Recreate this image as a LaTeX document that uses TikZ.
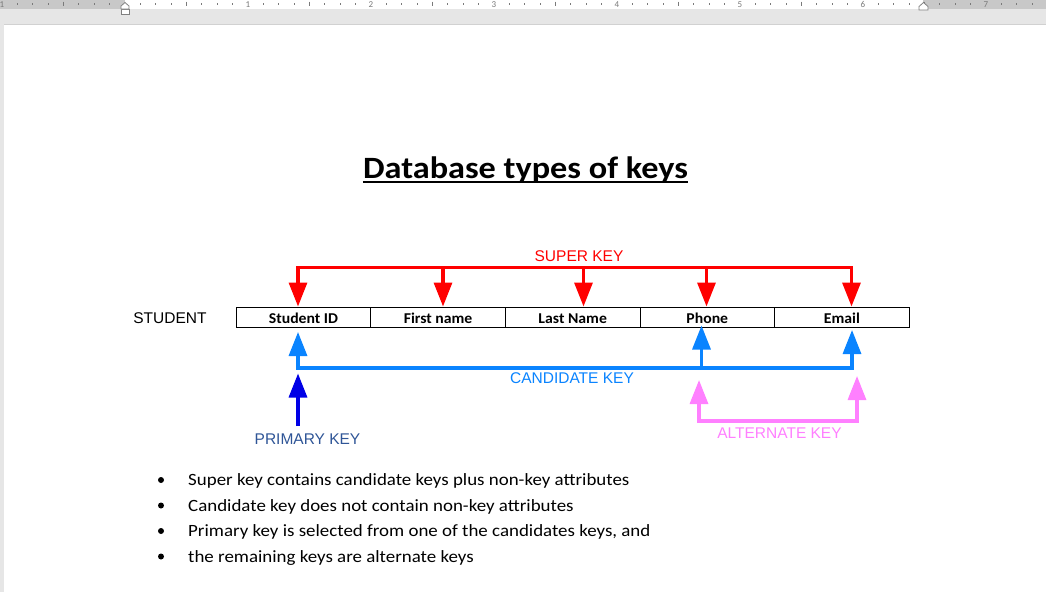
\documentclass[tikz,border=0pt]{standalone}
\usepackage{graphicx}
\usepackage{fontspec}
\setmainfont{Carlito}
\newfontfamily\arialf{Liberation Sans}
\usetikzlibrary{arrows.meta}
\definecolor{skred}{HTML}{FF0000}
\definecolor{ckblue}{HTML}{0A84FF}
\definecolor{pkblue}{HTML}{0000E6}
\definecolor{pklabel}{HTML}{2F5597}
\definecolor{akpink}{HTML}{FF80FF}
\definecolor{rulergray}{HTML}{C8C8C8}
\definecolor{bandgray}{HTML}{E6E6E6}
\definecolor{tickgray}{HTML}{7A7A7A}
\newcommand{\wide}[2]{\scalebox{#1}[1]{#2}}
\begin{document}
\begin{tikzpicture}[x=1pt,y=-1pt,
  tip/.style={-{Triangle[width=18pt,length=24pt]}},
  bitip/.style={{Triangle[width=18pt,length=24pt]}-{Triangle[width=18pt,length=24pt]}},
  keyline/.style={line width=3.2pt,line join=miter},
  cell/.style={draw=black,line width=1pt,minimum width=134.6pt,minimum height=20pt,inner sep=0pt,
    text height=14pt,text depth=1.4pt,font=\fontsize{15}{17}\selectfont\bfseries},
  arlabel/.style={font=\arialf\fontsize{15.5}{17}\selectfont,inner sep=0pt},
  bultext/.style={font=\fontsize{17.2}{20}\selectfont,anchor=base west,inner sep=0pt},
  buldot/.style={circle,fill=black,minimum size=6pt,inner sep=0pt},
  rulertick/.style={draw=tickgray,line width=0.8pt},
  rulernum/.style={font=\fontsize{9}{9}\selectfont,text=tickgray,anchor=base,inner sep=0pt},
  marker/.style={draw=gray,fill=white,line width=0.8pt}
]
\useasboundingbox (0,0) rectangle (1046,592);
% window background
\fill[bandgray] (0,0) rectangle (1046,592);
\fill[white] (4,25) rectangle (1046,592);
\draw[color=black!18,line width=1pt] (4,24.5) -- (1046,24.5);
% ruler
\begin{scope}
  \clip (0,0) rectangle (1046,9);
  \fill[rulergray] (0,0) rectangle (1046,9);
  \fill[white] (125,0) rectangle (923,9);
  \foreach \k in {-8,...,59} {
    \pgfmathsetmacro{\xx}{125+\k*15.375}
    \pgfmathtruncatemacro{\mm}{mod(abs(\k),8)}
    \pgfmathtruncatemacro{\hh}{mod(abs(\k),4)}
    \ifnum\mm=0
      \ifnum\k=0\else
        \pgfmathtruncatemacro{\nn}{abs(\k)/8}
        \node[rulernum] (rn\k) at (\xx,7.5) {\nn};
      \fi
    \else
      \ifnum\hh=0
        \draw[rulertick] (\xx,1.5) -- (\xx,6);
      \else
        \draw[rulertick] (\xx,3) -- (\xx,4.5);
      \fi
    \fi
  }
\end{scope}
\draw[marker] (121,14) -- (121,9) -- (129,9) -- (129,14) -- cycle;
\draw[marker] (121,9) -- (121,6) -- (125,2.5) -- (129,6) -- (129,9) -- cycle;
\draw[marker] (919,10) -- (919,6.5) -- (923.5,2.5) -- (928,6.5) -- (928,10) -- cycle;

% title
\node[font=\fontsize{31}{34}\selectfont\bfseries,anchor=base,inner sep=0pt] (title) at (525.5,178.5) {\wide{1.105}{Database types of keys}};
\draw[line width=2.3pt] ([yshift=-3.3pt]title.base west) -- ([yshift=-3.3pt]title.base east);

% table
\node[arlabel] (student) at (170,318) {STUDENT};
\node[cell] (c1) at (303.5,317) {\wide{1.05}{Student ID}};
\node[cell] (c2) at (438.1,317) {\wide{1.05}{First name}};
\node[cell] (c3) at (572.7,317) {\wide{1.05}{Last Name}};
\node[cell] (c4) at (707.3,317) {\wide{1.05}{Phone}};
\node[cell] (c5) at (841.9,317) {\wide{1.05}{Email}};

% super key
\coordinate (sk1) at (298,267.5);
\coordinate (sk2) at (443,267.5);
\coordinate (sk3) at (583.5,267.5);
\coordinate (sk4) at (706.5,267.5);
\coordinate (sk5) at (851.5,267.5);
\draw[keyline,skred,bitip] (sk1 |- c1.north) -- (sk1) -- (sk5) -- (sk5 |- c5.north);
\draw[keyline,skred,tip] (sk2) -- (sk2 |- c2.north);
\draw[keyline,skred,tip] (sk3) -- (sk3 |- c3.north);
\draw[keyline,skred,tip] (sk4) -- (sk4 |- c4.north);
\node[arlabel,text=skred] (sklabel) at (579,256.5) {SUPER KEY};

% candidate key
\coordinate (ck1) at (298,332);
\coordinate (ck2) at (701.5,325.5);
\coordinate (ck3) at (852,330);
\coordinate (ckbus) at (298,368);
\draw[keyline,ckblue,bitip] (ck1) -- (ckbus) -- (ckbus -| ck3) -- (ck3);
\draw[keyline,ckblue,tip] (ckbus -| ck2) -- (ck2);
\node[arlabel,text=ckblue] (cklabel) at (572,378.5) {CANDIDATE KEY};

% primary key
\coordinate (pkS) at (298,426);
\coordinate (pkT) at (298,373.5);
\draw[keyline,pkblue,tip] (pkS) -- (pkT);
\node[arlabel,text=pklabel] (pklabel) at (307.5,439.5) {PRIMARY KEY};

% alternate key
\coordinate (ak1) at (699,380);
\coordinate (ak2) at (857,376);
\coordinate (akbus) at (699,421);
\draw[keyline,akpink,bitip] (ak1) -- (akbus) -- (akbus -| ak2) -- (ak2);
\node[arlabel,text=akpink] (aklabel) at (779.5,433.5) {ALTERNATE KEY};

% bullets
\node[buldot] (d1) at (161,480) {};
\node[buldot] (d2) at (161,505.5) {};
\node[buldot] (d3) at (161,531) {};
\node[buldot] (d4) at (161,556.5) {};
\node[bultext] (b1) at (188,485.5) {\wide{1.1}{Super key contains candidate keys plus non-key attributes}};
\node[bultext] (b2) at (188,511) {\wide{1.1}{Candidate key does not contain non-key attributes}};
\node[bultext] (b3) at (188,536.5) {\wide{1.1}{Primary key is selected from one of the candidates keys, and}};
\node[bultext] (b4) at (188,562) {\wide{1.1}{the remaining keys are alternate keys}};
\end{tikzpicture}
\end{document}
